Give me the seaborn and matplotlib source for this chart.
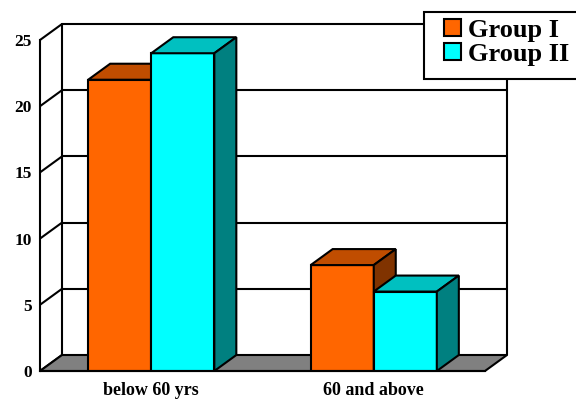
import matplotlib
matplotlib.use('Agg')
import matplotlib.pyplot as plt
import matplotlib.transforms as mtransforms
from matplotlib.patches import Polygon, Patch, Rectangle
import pandas as pd
import seaborn as sns

categories = ['below 60 yrs', '60 and above']
groups = ['Group I', 'Group II']
group_1 = [22, 8]
group_2 = [24, 6]
y_ticks = [0, 5, 10, 15, 20, 25]

front_colors = ['#FF6600', '#00FFFF']
top_colors = ['#C04D00', '#00C0C0']
side_colors = ['#803300', '#008080']

df = pd.DataFrame({
    'age': categories * 2,
    'value': group_1 + group_2,
    'group': [groups[0]] * 2 + [groups[1]] * 2,
})

sns.set_style('white')
plt.rcParams['font.family'] = ['Liberation Serif', 'DejaVu Serif']
plt.rcParams['font.weight'] = 'bold'

DX, DY = 22, 16   # depth of the fake 3d box, pixels
LW = 1.5

fig = plt.figure(figsize=(5.76, 3.99), dpi=100)
ax = fig.add_axes([40 / 576, 28 / 399, 445 / 576, 331 / 399])

sns.barplot(df, x='age', y='value', hue='group', palette=front_colors, saturation=1,
            width=0.567, gap=0, edgecolor='black', linewidth=LW, legend=False, ax=ax)
ax.set_xlim(-0.5, 1.5)
ax.set_ylim(0, 25)
ax.set_yticks(y_ticks)
ax.set_xlabel('')
ax.set_ylabel('')
for s in ['top', 'right']:
    ax.spines[s].set_visible(False)
for s in ['left', 'bottom']:
    ax.spines[s].set_color('black')
    ax.spines[s].set_linewidth(LW)
    ax.spines[s].set_zorder(6)
ax.set_xticks([-0.5, 0.5, 1.5], minor=True)
ax.tick_params(axis='x', which='major', length=0, pad=8, labelsize=13, labelcolor='black')
ax.tick_params(axis='x', which='minor', length=5, width=LW, direction='out', color='black')
ax.tick_params(axis='y', length=4, width=LW, direction='out', color='black', labelsize=12.5,
               pad=2, labelcolor='black')

ident = mtransforms.IdentityTransform()
back = ax.transData + mtransforms.ScaledTranslation(DX / 100, DY / 100, fig.dpi_scale_trans)


def px(x, y, d=0):
    X, Y = ax.transData.transform((x, y))
    return (X + DX * d, Y + DY * d)


# back wall
for v in y_ticks[1:]:
    ax.plot([-0.5, 1.5], [v, v], transform=back, color='black', lw=LW, zorder=1, clip_on=False)
for xv in [-0.5, 1.5]:
    ax.plot([xv, xv], [0, 25], transform=back, color='black', lw=LW, zorder=1, clip_on=False)
# side wall diagonals
for v in y_ticks:
    p0, p1 = px(-0.5, v), px(-0.5, v, 1)
    ax.plot([p0[0], p1[0]], [p0[1], p1[1]], transform=ident, color='black', lw=LW, zorder=1, clip_on=False)
# floor
floor = [px(-0.5, 0), px(1.5, 0), px(1.5, 0, 1), px(-0.5, 0, 1)]
ax.add_patch(Polygon(floor, closed=True, facecolor='#808080', edgecolor='black', lw=LW,
                     transform=ident, zorder=2, clip_on=False))

# tops and sides of the bars
for gi, cont in enumerate(ax.containers):
    for bar in cont.patches:
        bar.set_zorder(3 + gi)
        x0, w, h = bar.get_x(), bar.get_width(), bar.get_height()
        top = [px(x0, h), px(x0 + w, h), px(x0 + w, h, 1), px(x0, h, 1)]
        side = [px(x0 + w, 0), px(x0 + w, 0, 1), px(x0 + w, h, 1), px(x0 + w, h)]
        for pts, fc in [(top, top_colors[gi]), (side, side_colors[gi])]:
            ax.add_patch(Polygon(pts, closed=True, facecolor=fc, edgecolor='black', lw=LW,
                                 transform=ident, zorder=3 + gi, clip_on=False))

# legend
fig.patches.append(Rectangle((424, 399 - 79), 170, 67, transform=ident, facecolor='white',
                             edgecolor='black', lw=LW, zorder=10))
handles = [Patch(facecolor=c, edgecolor='black', lw=LW, label=g) for c, g in zip(front_colors, groups)]
leg = fig.legend(handles=handles, loc='upper left', bbox_to_anchor=(444 / 576, 1 - 19 / 399),
                 frameon=False, prop={'family': 'Liberation Serif', 'weight': 'bold', 'size': 19},
                 handlelength=0.65, handleheight=0.62, handletextpad=0.25, borderpad=0,
                 borderaxespad=0, labelspacing=0.02, labelcolor='black')
leg.set_zorder(11)

fig.savefig('out.png', dpi=100)
